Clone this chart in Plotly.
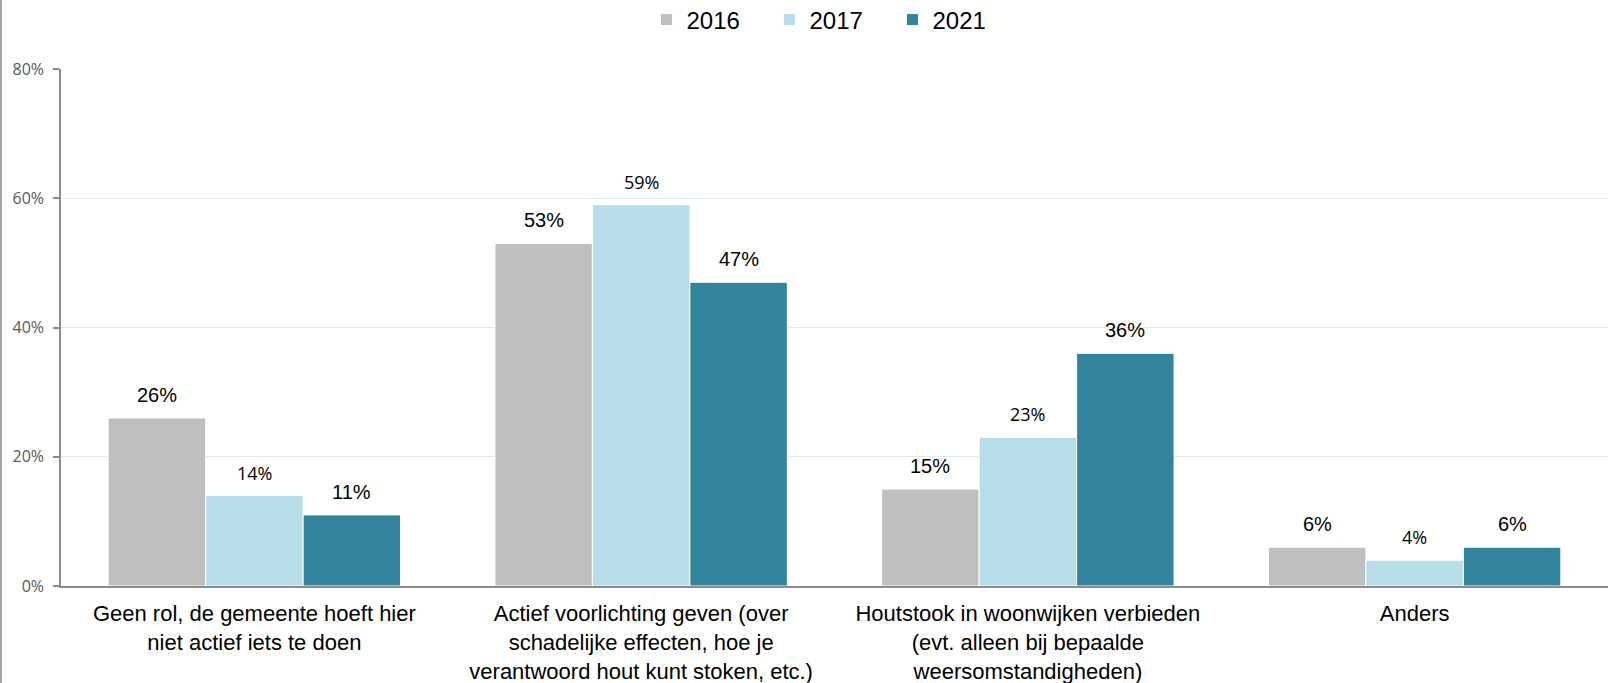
import plotly.graph_objects as go

categories = [
    "Geen rol, de gemeente hoeft hier<br>niet actief iets te doen",
    "Actief voorlichting geven (over<br>schadelijke effecten, hoe je<br>verantwoord hout kunt stoken, etc.)",
    "Houtstook in woonwijken verbieden<br>(evt. alleen bij bepaalde<br>weersomstandigheden)",
    "Anders",
]
series_names = ["2016", "2017", "2021"]
values_2016 = [26, 53, 15, 6]
values_2017 = [14, 59, 23, 4]
values_2021 = [11, 47, 36, 6]
y_ticks = [0, 20, 40, 60, 80]

series_values = [values_2016, values_2017, values_2021]
colors = ["#bfbfbf", "#b7dde8", "#31849b"]
label_fonts = [
    dict(family="Liberation Sans, Arial", size=20, color="#000000"),
    dict(family="Open Sans, Noto Sans", size=18, color="#000000"),
    dict(family="Liberation Sans, Arial", size=20, color="#000000"),
]

W, H = 1608, 683
ML, MR, MT, MB = 61, 0, 69, 97
BARGAP = 0.244
plot_w = W - ML - MR
plot_h = H - MT - MB
bar_px = plot_w / len(categories) * (1 - BARGAP) / len(series_names)

fig = go.Figure()
for name, vals, col in zip(series_names, series_values, colors):
    fig.add_trace(go.Bar(
        x=categories, y=vals, name=name,
        marker=dict(color=col, line=dict(color="#ffffff", width=1)),
        hoverinfo="skip",
    ))

annotations = []
for i, (vals, fnt) in enumerate(zip(series_values, label_fonts)):
    for c, v in zip(categories, vals):
        annotations.append(dict(
            x=c, y=v, xref="x", yref="y", text=f"{v}%", showarrow=False,
            xshift=(i - 1) * bar_px, yshift=23, yanchor="middle",
            font=fnt,
        ))

fig.update_layout(
    width=W, height=H,
    margin=dict(l=ML, r=MR, t=MT, b=MB, pad=0, autoexpand=False),
    paper_bgcolor="#ffffff", plot_bgcolor="#ffffff",
    barmode="group", bargap=BARGAP, bargroupgap=0,
    showlegend=True,
    legend=dict(
        orientation="h", x=(831 - ML) / plot_w, xanchor="center",
        y=1 + (MT - 20) / plot_h, yanchor="middle",
        font=dict(family="Liberation Sans, Arial", size=24, color="#000000"),
        itemclick=False, itemdoubleclick=False,
        traceorder="normal", entrywidth=78,
    ),
    annotations=annotations,
    shapes=[dict(
        type="line", xref="paper", yref="paper",
        x0=-(ML - 1) / plot_w, x1=-(ML - 1) / plot_w,
        y0=-MB / plot_h, y1=1 + MT / plot_h,
        line=dict(color="#a6a6a6", width=2),
    )],
)

fig.update_xaxes(
    showline=True, linecolor="#8c8c8c", linewidth=2,
    showgrid=False, ticks="", zeroline=False, automargin=False,
    tickfont=dict(family="Liberation Sans, Arial", size=22, color="#000000"),
    ticklabelstandoff=7, fixedrange=True,
)
fig.update_yaxes(
    range=[0, 80], tickvals=y_ticks, ticktext=[f"{t}%" for t in y_ticks],
    showline=True, linecolor="#8c8c8c", linewidth=1.5,
    ticks="outside", ticklen=6, tickcolor="#8c8c8c", tickwidth=1.5,
    showgrid=True, gridcolor="#dceaf4", gridwidth=1,
    zeroline=False, automargin=False,
    tickfont=dict(family="Open Sans, Noto Sans", size=16, color="#595959"),
    ticklabelstandoff=6, fixedrange=True,
)

fig.write_html("out.html", config={"displayModeBar": False},
               post_script="document.body.style.margin='0';document.body.style.overflow='hidden';")
